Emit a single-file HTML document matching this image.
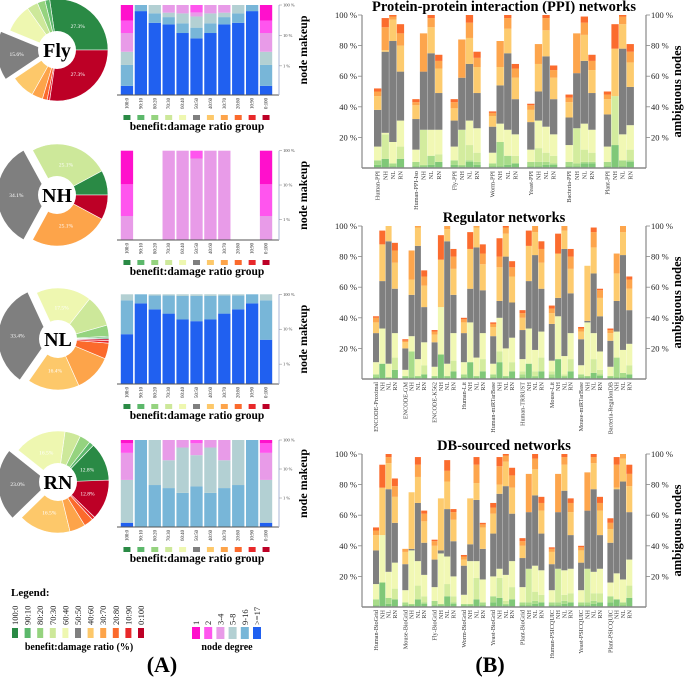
<!DOCTYPE html>
<html><head><meta charset="utf-8">
<style>
html,body{margin:0;padding:0;background:#fff;}
svg{display:block;font-family:"Liberation Serif",serif;}
</style></head>
<body>
<svg id="fig" width="685" height="678" viewBox="0 0 685 678" xmlns="http://www.w3.org/2000/svg">
<g id="left"></g>
<g id="right"></g>
<text x="162" y="672" font-size="22" font-weight="bold" text-anchor="middle">(A)</text>
<text x="490" y="672" font-size="22" font-weight="bold" text-anchor="middle">(B)</text>
</svg>
<script>
const NS="http://www.w3.org/2000/svg";
const ratioLabels=["100:0","90:10","80:20","70:30","60:40","50:50","40:60","30:70","20:80","10:90","0:100"];
const ratioColors=["#2a8a45","#5cb86b","#95d37f","#cde89a","#eef7b0","#7f7f7f","#fdc86a","#fda44a","#fb6a2c","#e8282a","#bd0026"];
const degreeLabels=["1","2","3-4","5-8","9-16",">=17"];
const degreeColors=["#ff10cc","#ff55ee","#e89be8","#b3d0d3","#78b6d8","#2060f0"];

// pie data (% per ratio group)
const pieFly=[27.3,1.5,2.5,3.5,9,15.6,7.5,3.5,1.5,0.8,27.3];
const pieNH=[7.85,0,0,25.1,0,34.1,0,25.1,0,0,7.85];
const pieNL=[0.4,0.5,3.5,10,17.5,33.4,16.4,12,5,0.8,0.5];
const pieRN=[12.8,1.5,3.5,5,16.5,23,16.5,5,3,1,12.8];

// node makeup: cumulative tops (%) for [>=17, 9-16, 5-8, 3-4, 2, 1], per ratio group
const makeupFly=[[0.22,1.07,2.9,12,31,100],[63,100,100,100,100,100],[26,53,100,100,100,100],[23,40,56,100,100,100],[12,25,53,100,100,100],[8,18,42,57,100,100],[12,25,53,100,100,100],[23,40,56,100,100,100],[26,53,100,100,100,100],[63,100,100,100,100,100],[0.22,1.07,2.9,12,31,100]];
const makeupNH=[[0,0,0,1.25,10.5,100],null,null,[0,0,0,100,100,100],[0,0,0,100,100,100],[0,0,0,59,100,100],[0,0,0,100,100,100],[0,0,0,100,100,100],null,null,[0,0,0,1.25,10.5,100]];
const makeupNL=[[7.2,67,100,100,100,100],[55,100,100,100,100,100],[37,92,100,100,100,100],[28,92,100,100,100,100],[19,90,100,100,100,100],[17,90,100,100,100,100],[19,90,100,100,100,100],[28,92,100,100,100,100],[37,92,100,100,100,100],[55,100,100,100,100,100],[5,67,100,100,100,100]];
const makeupRN=[[0.14,0.14,4.2,36,77,100],[0,100,100,100,100,100],[0,2.8,100,100,100,100],[0,2.2,20,100,100,100],[0,1.5,55,100,100,100],[0,2.5,30,77,100,100],[0,1.5,55,100,100,100],[0,2.2,20,100,100,100],[0,2.8,100,100,100,100],[0,100,100,100,100,100],[0.14,0.14,4.2,36,77,100]];

// panel B: cumulative tops (%) for [90:10,80:20,70:30,60:40,50:50,40:60,30:70,20:80]
const ppiNames=["Human-PPI","Human-PPI-Iso","Fly-PPI","Worm-PPI","Yeast-PPI","Bacteria-PPI","Plant-PPI"];
const ppiValues=[
[[2,5,5,14,38,47,50,52],[6,6,22,23,76,77,92,98],[1,3,3,17,83,97,99,100],[6,6,14,31,63,80,88,94]],
[[1,4,4,12,32,41,43,45],[1,2,25,25,63,63,88,88],[2,8,8,25,75,92,98,100],[4,4,9,25,49,65,70,74]],
[[2,5,5,14,31,39,43,45],[1,2,25,25,59,59,84,84],[4,5,15,31,68,85,95,100],[2,4,10,26,49,66,72,76]],
[[1,3,3,10,27,34,36,37],[1,17,17,29,54,66,83,83],[2,8,8,25,75,91,98,100],[3,3,8,22,45,59,65,68]],
[[1,4,4,12,30,38,41,42],[1,4,13,31,50,68,81,81],[2,4,10,27,73,90,98,100],[2,3,8,22,45,59,64,67]],
[[1,4,4,15,33,43,46,48],[1,3,26,26,62,62,88,88],[3,4,12,29,70,87,95,99],[3,4,10,25,49,64,70,74]],
[[1,4,4,14,35,45,48,50],[15,15,47,47,47,78,78,94],[1,5,5,22,78,94,99,100],[4,5,12,28,53,69,76,81]]];
const regNames=["ENCODE-Proximal","ENCODE-GM","ENCODE-K562","Human-Lit","Human-miRTarBase","Human-TRRUST","Mouse-Lit","Mouse-miRTarBase","Bacteria-RegulonDB"];
const regValues=[
[[1,3,3,11,30,37,40,41],[10,10,10,33,64,88,88,97],[1,1,1,10,90,100,100,100],[6,6,14,30,59,76,84,89]],
[[1,2,2,6,20,24,25,26],[1,18,18,28,55,65,84,84],[1,2,2,13,87,99,100,100],[3,3,9,24,47,61,67,71]],
[[1,2,2,8,24,29,31,32],[16,16,16,47,47,78,78,94],[1,2,2,10,90,98,100,100],[5,5,12,30,55,72,80,85]],
[[1,3,3,11,30,37,39,40],[11,11,11,37,59,85,85,96],[1,2,2,14,86,99,100,100],[5,5,13,30,58,75,82,88]],
[[1,3,3,10,28,34,36,37],[11,11,18,40,51,73,80,92],[1,2,2,20,80,95,99,100],[5,5,11,27,50,67,73,77]],
[[1,3,5,13,32,40,43,45],[10,10,10,33,64,87,87,97],[1,2,5,19,81,96,100,100],[5,5,14,31,59,76,85,90]],
[[1,3,5,12,36,43,46,48],[13,13,13,41,53,82,82,95],[1,2,3,15,85,97,100,100],[5,5,13,30,56,72,80,85]],
[[1,3,3,9,26,31,33,34],[1,2,2,37,38,74,74,74],[4,4,13,30,69,86,96,99],[2,3,6,18,41,53,58,59]],
[[1,2,2,8,25,30,32,33],[1,14,14,31,51,69,82,82],[1,4,4,19,81,96,100,100],[3,3,9,23,45,59,65,67]]];
const dbNames=["Human-BioGrid","Mouse-BioGrid","Fly-BioGrid","Worm-BioGrid","Yeast-BioGrid","Plant-BioGrid","Human-PSICQUIC","Yeast-PSICQUIC","Plant-PSICQUIC"];
const dbValues=[
[[1,5,5,15,37,47,50,52],[16,16,16,47,47,78,78,93],[2,6,6,23,77,94,98,100],[5,5,12,29,55,72,79,84]],
[[1,3,3,11,28,36,38,38],[1,2,2,37,38,75,75,75],[5,5,14,30,68,85,93,98],[2,3,7,21,42,56,61,63]],
[[1,4,4,13,31,40,43,44],[1,2,2,35,37,71,71,71],[7,7,15,33,64,82,89,96],[2,3,7,20,43,57,62,64]],
[[1,2,2,8,27,31,33,34],[1,2,2,30,41,71,71,71],[5,5,19,30,70,81,93,98],[1,3,3,18,38,52,54,55]],
[[3,7,7,20,48,61,65,68],[6,6,19,25,74,80,92,98],[1,2,4,21,79,95,99,100],[5,5,13,30,61,78,86,91]],
[[1,3,3,13,32,40,43,45],[1,3,25,25,62,62,87,87],[2,4,10,27,73,90,97,100],[3,3,8,24,48,63,68,72]],
[[1,3,3,11,28,36,38,39],[1,3,25,25,62,62,87,87],[2,4,8,24,76,93,98,100],[3,3,9,25,47,62,68,71]],
[[1,3,3,11,29,37,39,40],[1,3,25,25,63,63,88,88],[2,4,9,23,77,94,98,100],[3,3,9,25,47,63,68,72]],
[[3,7,7,16,42,51,55,58],[5,5,5,22,77,78,93,98],[1,3,3,18,82,97,100,100],[6,6,14,31,62,79,87,93]]];
const pctTicks=[20,40,60,80,100];
const logTicks=[100,10,1];

function mk(tag,attrs,parent,txt){const e=document.createElementNS(NS,tag);for(const k in attrs)e.setAttribute(k,attrs[k]);if(txt!==undefined)e.textContent=txt;parent.appendChild(e);return e;}
const L=document.getElementById('left'), R=document.getElementById('right');

function drawPie(cx,cy,r,vals,name,labelIdx){
  const g=mk('g',{},L);
  
  
  let a=0;
  vals.forEach((v,i)=>{
    if(v<=0)return;
    const a0=a, a1=a+v/100*2*Math.PI; a=a1;
    const mid=(a0+a1)/2;
    const off=i===5?9:0;
    const ox=cx+off*Math.cos(mid), oy=cy-off*Math.sin(mid);
    const x0=ox+r*Math.cos(a0), y0=oy-r*Math.sin(a0), x1=ox+r*Math.cos(a1), y1=oy-r*Math.sin(a1);
    const large=(a1-a0)>Math.PI?1:0;
    const p=mk('path',{d:`M${ox},${oy} L${x0},${y0} A${r},${r} 0 ${large} 0 ${x1},${y1} Z`,fill:ratioColors[i],stroke:'#fff','stroke-width':0.6},g);
    
    
    if(v>12){
      const t=mk('text',{x:ox+r*0.62*Math.cos(mid),y:oy-r*0.62*Math.sin(mid)+2,'font-size':5.5,fill:'#fff','text-anchor':'middle'},g,v.toFixed(1)+'%');
      
      
    }
  });
  mk('circle',{cx:cx,cy:cy,r:19,fill:'#fff'},g);
  const t=mk('text',{x:cx,y:cy+7,'font-size':20,'font-weight':'bold','text-anchor':'middle'},g,name);
  
  
}
drawPie(57,50,51,pieFly,'Fly');
drawPie(57,195,51,pieNH,'NH');
drawPie(58,339,51,pieNL,'NL');
drawPie(58,482,51,pieRN,'RN');

function drawMakeup(top,bottom,minP,data,key){
  const g=mk('g',{},L);
  
  
  const x0=120,x1=273,slot=(x1-x0)/11,bw=slot-1.6;
  const lmin=Math.log10(minP);
  const yS=p=>{if(p<=minP)return bottom;return bottom-(Math.log10(p)-lmin)/(2-lmin)*(bottom-top);};
  data.forEach((bar,i)=>{
    if(!bar)return;
    const bx=x0+i*slot+0.8;
    let prev=minP;
    for(let k=0;k<6;k++){
      const topV=bar[k];
      if(topV>prev){
        const r=mk('rect',{x:bx,y:yS(topV),width:bw,height:yS(prev)-yS(topV),fill:degreeColors[5-k]},g);
        
        
        prev=topV;
      }
    }
  });
  mk('line',{x1:117,y1:bottom,x2:279,y2:bottom,stroke:'#555','stroke-width':1},g);
  mk('line',{x1:279,y1:top,x2:279,y2:bottom,stroke:'#a9b4d6','stroke-width':1},g);
  logTicks.forEach(t=>{
    mk('line',{x1:279,y1:yS(t),x2:282,y2:yS(t),stroke:'#888','stroke-width':0.5},g);
    const tx=mk('text',{x:283,y:yS(t)+1.5,'font-size':4.5,fill:'#444'},g,t+' %');
    
    
  });
  ratioLabels.forEach((lb,i)=>{
    const cx=x0+(i+0.5)*slot;
    const t=mk('text',{x:cx+1.5,y:bottom+3,'font-size':4.8,fill:'#333','text-anchor':'end',transform:`rotate(-90 ${cx+1.5} ${bottom+3})`},g,lb);
    
    
    const s=mk('rect',{x:cx-3.5,y:bottom+20,width:7,height:5,fill:ratioColors[i]},g);
    
    
  });
  const tt=mk('text',{x:197,y:bottom+35,'font-size':11.5,'font-weight':'bold','text-anchor':'middle'},g,'benefit:damage ratio group');
  
  
  const cy=(top+bottom)/2;
  const yt=mk('text',{x:307,y:cy,'font-size':12,'font-weight':'bold','text-anchor':'middle',transform:`rotate(-90 307 ${cy})`},g,'node makeup');
  
  
}
drawMakeup(5,95,0.11,makeupFly,'fly');
drawMakeup(150.7,240,0.25,makeupNH,'nh');
drawMakeup(294.3,384,0.27,makeupNL,'nl');
drawMakeup(440,527,0.1,makeupRN,'rn');

// legend
(function(){
  const g=mk('g',{},L);
  
  
  const lt=mk('text',{x:11,y:596,'font-size':11,'font-weight':'bold'},g,'Legend:');
  
  
  ratioLabels.forEach((lb,i)=>{
    const cx=15+i*12.6;
    const t=mk('text',{x:cx+3,y:625,'font-size':8.5,fill:'#222',transform:`rotate(-90 ${cx+3} 625)`},g,lb);
    
    
    mk('rect',{x:cx-3,y:628,width:6,height:10,fill:ratioColors[i]},g);
  });
  const a=mk('text',{x:79,y:650,'font-size':10,'font-weight':'bold','text-anchor':'middle'},g,'benefit:damage ratio (%)');
  
  
  degreeLabels.forEach((lb,i)=>{
    const cx=196+i*12.2;
    const t=mk('text',{x:cx+3,y:625,'font-size':8.5,fill:'#222',transform:`rotate(-90 ${cx+3} 625)`},g,lb);
    
    
    mk('rect',{x:cx-4,y:627,width:8,height:12,fill:degreeColors[i]},g);
  });
  const b=mk('text',{x:227,y:650,'font-size':10,'font-weight':'bold','text-anchor':'middle'},g,'node degree');
  
  
})();

const stackColors=["#80c878","#a8dc8a","#d3ec9e","#f1f8b4","#7f7f7f","#fdcb6e","#fda54c","#fb6c2e"];
function drawGroup(title,top,bottom,start,spacing,stride,bw,names,values,key){
  const g=mk('g',{},R);
  
  
  const yS=v=>bottom-v/100*(bottom-top);
  values.forEach((grp,gi)=>{
    grp.forEach((bar,bi)=>{
      const bx=start+gi*spacing+bi*stride;
      let prev=0;
      bar.forEach((v,k)=>{
        if(v>prev){
          const r=mk('rect',{x:bx,y:yS(v),width:bw,height:yS(prev)-yS(v),fill:stackColors[k]},g);
          
          
          prev=v;
        }
      });
      const lb=bi===0?names[gi]:["","NH","NL","RN"][bi];
      const cx=bx+bw/2+2;
      const t=mk('text',{x:cx,y:bottom+3,'font-size':6.2,fill:'#333','text-anchor':'end',transform:`rotate(-90 ${cx} ${bottom+3})`},g,lb);
      
      
    });
  });
  mk('line',{x1:362,y1:top,x2:362,y2:bottom,stroke:'#888','stroke-width':1.2},g);
  mk('line',{x1:646,y1:top,x2:646,y2:bottom,stroke:'#888','stroke-width':1.2},g);
  mk('line',{x1:362,y1:bottom,x2:646,y2:bottom,stroke:'#888','stroke-width':1.5},g);
  pctTicks.forEach(t=>{
    const y=yS(t);
    mk('line',{x1:358,y1:y,x2:362,y2:y,stroke:'#888','stroke-width':0.8},g);
    mk('line',{x1:646,y1:y,x2:650,y2:y,stroke:'#888','stroke-width':0.8},g);
    const a=mk('text',{x:357,y:y+3,'font-size':8.5,'text-anchor':'end',fill:'#222'},g,t+' %');
    
    
    const b=mk('text',{x:651,y:y+3,'font-size':8.5,fill:'#222'},g,t+' %');
    
    
  });
  const tt=mk('text',{x:504,y:top-4,'font-size':14.5,'font-weight':'bold','text-anchor':'middle'},g,title);
  
  
  const cy=(top+bottom)/2;
  const yt=mk('text',{x:681,y:cy,'font-size':12.5,'font-weight':'bold','text-anchor':'middle',transform:`rotate(-90 681 ${cy})`},g,'ambiguous nodes');
  
  
}
drawGroup('Protein-protein interaction (PPI) networks',15,168,374,38.3,7.6,7.3,ppiNames,ppiValues,'ppi');
drawGroup('Regulator networks',226,379,373,29.3,6.3,6,regNames,regValues,'regulator');
drawGroup('DB-sourced networks',454,607,373,29.3,6.3,6,dbNames,dbValues,'db');
</script>
</body></html>
